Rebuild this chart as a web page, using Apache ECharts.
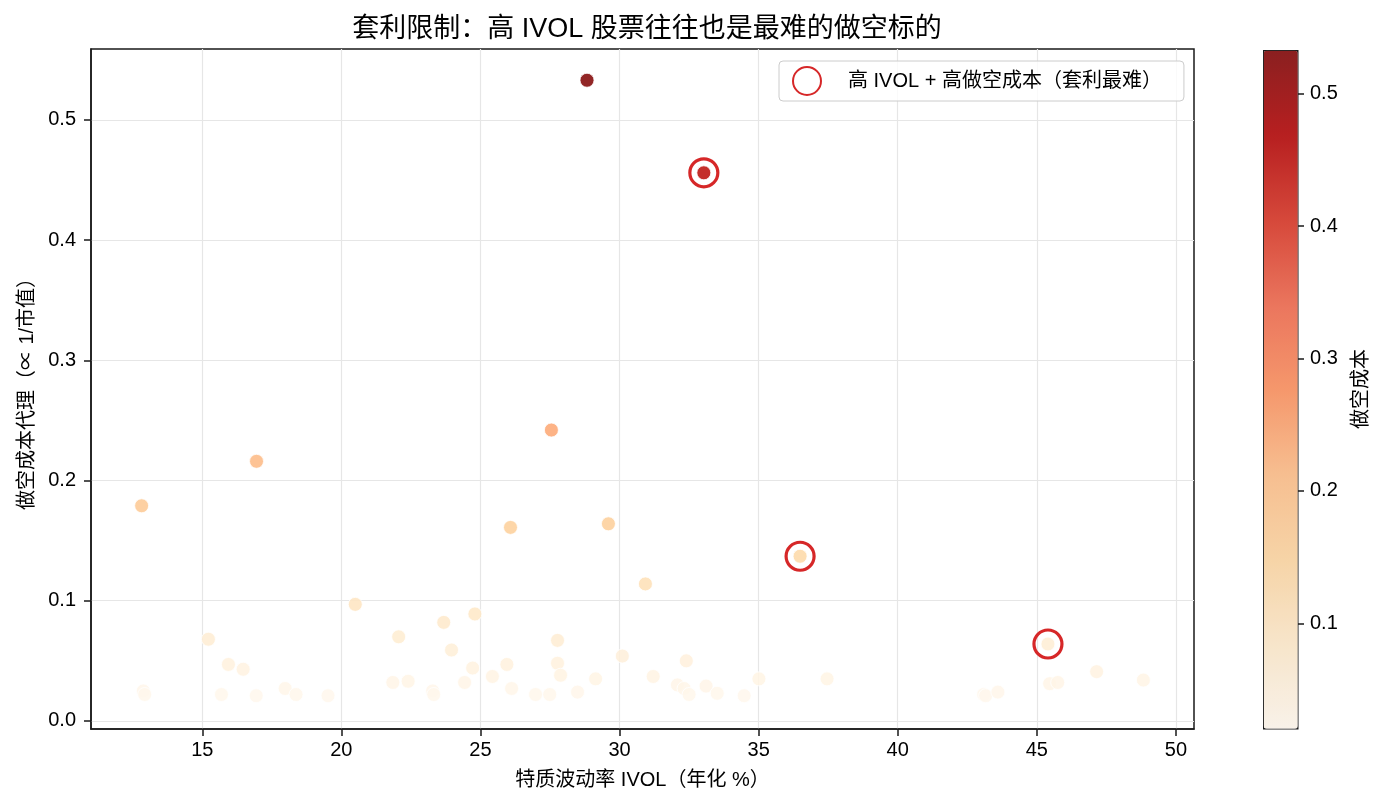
<!DOCTYPE html>
<html>
<head>
<meta charset="utf-8">
<script src="https://cdn.jsdelivr.net/npm/echarts@6/dist/echarts.min.js"></script>
<style>
  html, body { margin: 0; padding: 0; background: #fff; }
  #main { width: 1387px; height: 808px; }
</style>
</head>
<body>
<div id="main"></div>
<script>
// 特质波动率 IVOL（年化 %）
var ivol = [28.83, 33.03, 27.55, 16.95, 12.82, 26.08, 29.6, 36.49, 30.93, 20.5,
  24.8, 23.68, 15.22, 22.06, 27.77, 23.96, 45.4, 15.94, 16.47, 12.88,
  12.93, 15.69, 16.94, 17.98, 18.37, 19.52, 21.85, 22.4, 23.28, 23.32,
  24.72, 24.43, 25.95, 25.43, 27.77, 27.88, 26.12, 26.98, 27.49, 28.49,
  29.14, 30.1, 31.21, 32.4, 32.08, 32.32, 32.5, 33.11, 33.51, 34.48,
  35.01, 37.46, 43.09, 43.16, 43.6, 45.46, 45.75, 47.15, 48.83];
// 做空成本代理（∝ 1/市值）
var shortCost = [0.533, 0.456, 0.242, 0.216, 0.179, 0.161, 0.164, 0.137, 0.114, 0.097,
  0.089, 0.082, 0.068, 0.070, 0.067, 0.059, 0.064, 0.047, 0.043, 0.025,
  0.022, 0.022, 0.021, 0.027, 0.022, 0.021, 0.032, 0.033, 0.025, 0.022,
  0.044, 0.032, 0.047, 0.037, 0.048, 0.038, 0.027, 0.022, 0.022, 0.024,
  0.035, 0.054, 0.037, 0.050, 0.030, 0.027, 0.022, 0.029, 0.023, 0.021,
  0.035, 0.035, 0.022, 0.021, 0.024, 0.031, 0.032, 0.041, 0.034];
// 高 IVOL + 高做空成本 的点（下标）
var hardIdx = [1, 7, 16];

var xTicks = [15, 20, 25, 30, 35, 40, 45, 50];
var yTicks = [0.0, 0.1, 0.2, 0.3, 0.4, 0.5];
var cbTicks = [0.1, 0.2, 0.3, 0.4, 0.5];

var orrd = ['#fff7ec', '#fee8c8', '#fdd49e', '#fdbb84', '#fc8d59', '#ef6548', '#d7301f', '#b30000', '#7f0000'];
function withAlpha(hex, a) {
  var r = parseInt(hex.slice(1, 3), 16), g = parseInt(hex.slice(3, 5), 16), b = parseInt(hex.slice(5, 7), 16);
  return 'rgba(' + r + ',' + g + ',' + b + ',' + a + ')';
}

var FONT = '"Liberation Sans", Arial, "Noto Sans CJK SC", sans-serif';
var costMin = Math.min.apply(null, shortCost);
var costMax = Math.max.apply(null, shortCost);

var points = ivol.map(function (x, i) { return [x, shortCost[i]]; });
var hardPoints = hardIdx.map(function (i) { return [ivol[i], shortCost[i]]; });

var chart = echarts.init(document.getElementById('main'));

var option = {
  backgroundColor: '#fff',
  animation: false,
  textStyle: { fontFamily: FONT },
  title: {
    text: '套利限制：高 IVOL 股票往往也是最难的做空标的',
    left: 642,
    top: 11,
    textAlign: 'center',
    textStyle: { fontFamily: FONT, fontSize: 27, fontWeight: 'normal', color: '#000' }
  },
  legend: {
    left: 779,
    top: 61,
    padding: [5, 22, 5, 13],
    itemWidth: 28,
    itemHeight: 28,
    backgroundColor: 'rgba(255,255,255,0.8)',
    borderColor: '#cccccc',
    borderWidth: 1,
    borderRadius: 4,
    data: ['高 IVOL + 高做空成本（套利最难）'],
    textStyle: { fontFamily: FONT, fontSize: 20, color: '#000', padding: [0, 0, 0, 22] }
  },
  grid: [
    { left: 91, top: 49, width: 1103, height: 680, show: true, borderColor: '#1a1a1a', borderWidth: 1.5, backgroundColor: 'transparent' },
    { left: 1263, top: 50, width: 34, height: 678, show: false }
  ],
  xAxis: [
    {
      type: 'value', gridIndex: 0, min: 11.0, max: 50.65,
      name: '特质波动率 IVOL（年化 %）',
      nameLocation: 'middle', nameGap: 41,
      nameTextStyle: { fontFamily: FONT, fontSize: 20, color: '#000' },
      axisLine: { show: true, onZero: false, lineStyle: { color: '#1a1a1a', width: 1.5 } },
      axisTick: { show: true, length: 7, customValues: xTicks, lineStyle: { color: '#1a1a1a', width: 1.5 } },
      axisLabel: { customValues: xTicks, margin: 11, fontFamily: FONT, fontSize: 20, color: '#000' },
      splitLine: { show: true, lineStyle: { color: '#e6e6e6', width: 1.2 } }
    },
    {
      type: 'value', gridIndex: 1, min: 0, max: 1, show: false
    }
  ],
  yAxis: [
    {
      type: 'value', gridIndex: 0, min: -0.0067, max: 0.559,
      name: '做空成本代理（∝ 1/市值）',
      nameLocation: 'middle', nameGap: 54, nameRotate: 90,
      nameTextStyle: { fontFamily: FONT, fontSize: 20, color: '#000' },
      axisLine: { show: true, onZero: false, lineStyle: { color: '#1a1a1a', width: 1.5 } },
      axisTick: { show: true, length: 7, customValues: yTicks, lineStyle: { color: '#1a1a1a', width: 1.5 } },
      axisLabel: {
        customValues: yTicks, margin: 15, fontFamily: FONT, fontSize: 20, color: '#000',
        formatter: function (v) { return v.toFixed(1); }
      },
      splitLine: { show: true, lineStyle: { color: '#e6e6e6', width: 1.2 } }
    },
    {
      type: 'value', gridIndex: 1, position: 'right', min: costMin, max: costMax,
      name: '做空成本',
      nameLocation: 'middle', nameGap: 54, nameRotate: 90,
      nameTextStyle: { fontFamily: FONT, fontSize: 20, color: '#000' },
      axisLine: { show: false, onZero: false },
      axisTick: { show: true, length: 7, customValues: cbTicks, lineStyle: { color: '#1a1a1a', width: 1.5 } },
      axisLabel: {
        customValues: cbTicks, margin: 13, fontFamily: FONT, fontSize: 20, color: '#000',
        formatter: function (v) { return v.toFixed(1); }
      },
      splitLine: { show: false }
    }
  ],
  visualMap: {
    type: 'continuous',
    seriesIndex: 0,
    dimension: 1,
    min: costMin,
    max: costMax,
    calculable: false,
    realtime: false,
    hoverLink: false,
    showLabel: false,
    text: null,
    orient: 'vertical',
    left: 1263,
    top: 50,
    padding: 0,
    itemWidth: 34,
    itemHeight: 678,
    borderColor: '#1a1a1a',
    borderWidth: 1.5,
    inRange: { color: orrd.map(function (c) { return withAlpha(c, 0.85); }) }
  },
  series: [
    {
      type: 'scatter',
      name: 'IVOL vs 做空成本',
      xAxisIndex: 0, yAxisIndex: 0,
      symbolSize: 14,
      itemStyle: { opacity: 1, borderColor: '#ffffff', borderWidth: 0.8 },
      data: points,
      z: 2
    },
    {
      type: 'scatter',
      name: '高 IVOL + 高做空成本（套利最难）',
      xAxisIndex: 0, yAxisIndex: 0,
      symbol: 'circle',
      symbolSize: 28,
      itemStyle: { opacity: 1, color: 'rgba(0,0,0,0)', borderColor: '#d62728', borderWidth: 3.2 },
      data: hardPoints,
      z: 3
    }
  ]
};

chart.setOption(option);
</script>
</body>
</html>
